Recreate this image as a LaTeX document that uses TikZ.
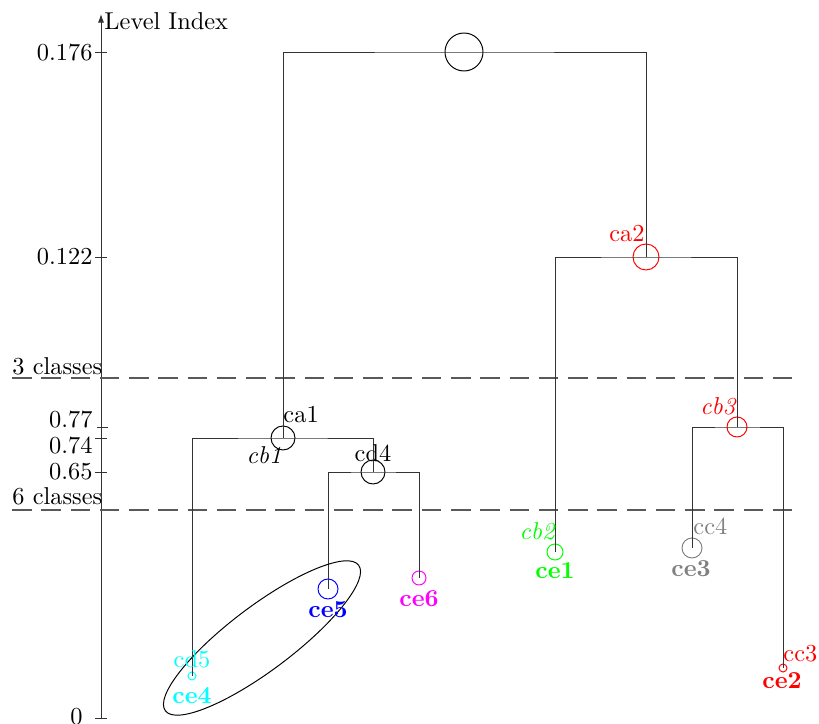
\documentclass[tikz,border=0pt]{standalone}
\usetikzlibrary{arrows.meta,shapes.geometric}
\definecolor{cyanx}{RGB}{0,255,255}
\definecolor{magentax}{RGB}{255,0,255}
\definecolor{greenx}{RGB}{0,255,0}
\definecolor{bluex}{RGB}{0,0,255}
\definecolor{redx}{RGB}{255,0,0}
\definecolor{grayx}{RGB}{128,128,128}
\begin{document}
\begin{tikzpicture}[x=0.41pt,y=-0.41pt,
  line width=0.4pt,
  circ/.style={circle,draw,inner sep=0pt,minimum size=#1*0.82pt},
  lbl/.style={inner sep=0pt},
  cut/.style={draw=black!65,line width=0.55pt,dash pattern=on 8pt off 4pt},
  branch/.style={draw=black!80}]
\useasboundingbox (0,0) rectangle (819,724);
% axis
\coordinate (a0) at (101,718);
\coordinate (atop) at (101,14);
\draw[draw=black!80,-{Latex[length=3.5pt,width=2.5pt]}] (a0) -- (atop);
\node[lbl,anchor=base west] (ylab) at (104,30) {Level Index};
\foreach \yy/\nm in {52/t1,257/t2,438/t4,472/t5,718/t6}{
  \coordinate (\nm l) at (95,\yy); \coordinate (\nm r) at (107,\yy);
  \draw[black!80] (\nm l) -- (\nm r);}
\coordinate (t3l) at (97,427); \coordinate (t3r) at (108,427);
\draw[black!80] (t3l) -- (t3r);
\node[lbl,anchor=east] (l1) at (93,53) {0.176};
\node[lbl,anchor=east] (l2) at (93,257) {0.122};
\node[lbl,anchor=east] (l3) at (93,420) {0.77};
\node[lbl,anchor=east] (l4) at (93,446) {0.74};
\node[lbl,anchor=east] (l5) at (93,472) {0.65};
\node[lbl,anchor=east] (l6) at (83,717) {0};
% cut lines
\coordinate (c3a) at (12,378); \coordinate (c3b) at (797,378);
\coordinate (c6a) at (12,510); \coordinate (c6b) at (797,510);
\draw[cut] (c3a) -- (c3b);
\draw[cut] (c6a) -- (c6b);
\node[lbl,anchor=base west] (k3) at (12,375) {3 classes};
\node[lbl,anchor=base west] (k6) at (12,505) {6 classes};
% circles
\node[circ=19] (root) at (464,52) {};
\node[circ=12] (ca1) at (283,438) {};
\node[circ=12] (cd4) at (373,472) {};
\node[circ=10,draw=bluex] (ce5) at (328,589) {};
\node[circ=7,draw=magentax] (ce6) at (419,578) {};
\node[circ=4,draw=cyanx] (ce4) at (192,676) {};
\node[circ=13,draw=redx] (ca2) at (646,257) {};
\node[circ=8,draw=greenx] (ce1) at (555,552) {};
\node[circ=10,draw=redx] (cb3) at (737,427) {};
\node[circ=10,draw=grayx] (ce3) at (692,548) {};
\node[circ=4,draw=redx] (ce2) at (783,668) {};
% branches
\draw[branch] (ca1.center) |- (root.center) -| (ca2.center);
\draw[branch] (ce4.center) |- (ca1.center) -| (cd4.center);
\draw[branch] (ce5.center) |- (cd4.center) -| (ce6.center);
\draw[branch] (ce1.center) |- (ca2.center) -| (cb3.center);
\draw[branch] (ce3.center) |- (cb3.center) -| (ce2.center);
% ellipse
\node[ellipse,draw,inner sep=0pt,minimum width=242*0.41pt,minimum height=64*0.41pt,rotate=37] (grp) at (262,638) {};
% labels
\node[lbl,anchor=base west] (tca1) at (283,423) {ca1};
\node[lbl,anchor=base east] (tcb1) at (282,464) {\textit{cb1}};
\node[lbl,anchor=base] (tcd4) at (373,462) {cd4};
\node[lbl,anchor=base,text=bluex] (tce5) at (328,618) {\bfseries ce5};
\node[lbl,anchor=base,text=magentax] (tce6) at (419,607) {\bfseries ce6};
\node[lbl,anchor=base,text=cyanx] (tcd5) at (192,668) {cd5};
\node[lbl,anchor=base,text=cyanx] (tce4) at (192,704) {\bfseries ce4};
\node[lbl,anchor=base east,text=redx] (tca2) at (645,242) {ca2};
\node[lbl,anchor=base east,text=greenx] (tcb2) at (556,540) {\textit{cb2}};
\node[lbl,anchor=base,text=greenx] (tce1) at (555,579) {\bfseries ce1};
\node[lbl,anchor=base east,text=redx] (tcb3) at (737,415) {\textit{cb3}};
\node[lbl,anchor=base west,text=grayx] (tcc4) at (693,535) {cc4};
\node[lbl,anchor=base,text=grayx] (tce3) at (691,577) {\bfseries ce3};
\node[lbl,anchor=base west,text=redx] (tcc3) at (783,662) {cc3};
\node[lbl,anchor=base,text=redx] (tce2) at (782,689) {\bfseries ce2};
\end{tikzpicture}
\end{document}
